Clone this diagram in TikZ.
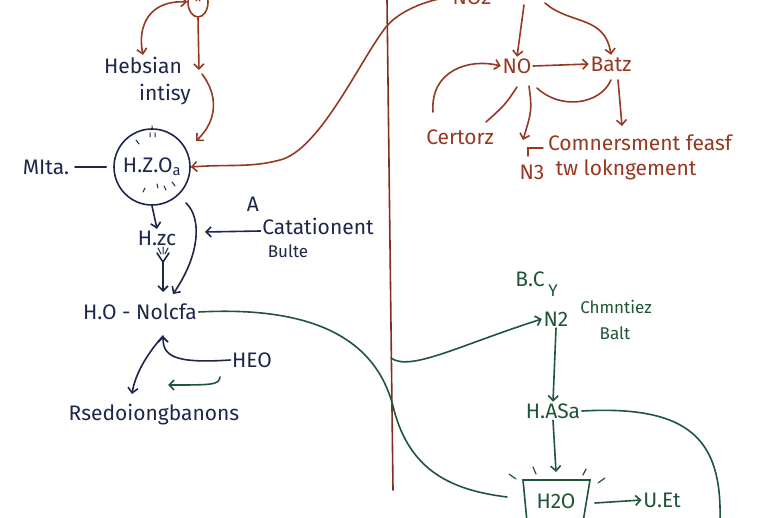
\documentclass[tikz,border=0pt]{standalone}
\usepackage{fontspec}
\setmainfont{Fira Sans}
\usepackage{tikz}
\usetikzlibrary{arrows.meta,shapes.geometric}

\definecolor{rust}{RGB}{150,56,34}
\definecolor{inkblue}{RGB}{30,38,74}
\definecolor{pine}{RGB}{32,86,56}

\tikzset{
  lbl/.style={inner sep=1pt, font=\fontsize{21}{23}\selectfont},
  sml/.style={inner sep=1pt, font=\fontsize{17}{19}\selectfont},
  >={Straight Barb[length=5pt,width=10pt]}
}

\begin{document}
\begin{tikzpicture}[x=1pt, y=-1pt, line width=1.6pt, line cap=round]
\clip (0,0) rectangle (770,518);
\fill[white] (0,0) rectangle (770,518);

% left column (navy)
\begin{scope}[inkblue]
\node[lbl] (hebs) at (143,65) {Hebsian};
\node[lbl] (intisy) at (165,95) {intisy};
\node[lbl, draw, circle, minimum size=76, inner sep=0pt] (circ) at (152,167) {H.Z.O\textsubscript{a}};
\node[lbl] (mita) at (46,167) {MIta.};
\node[lbl] (hzc) at (157,238) {H.zc};
\node[lbl] (capa) at (253,204) {A};
\node[lbl] (catat) at (318,226) {Catationent};
\node[sml] (bulte) at (288,251) {Bulte};
\node[lbl] (nolcfa) at (140,312) {H.O - Nolcfa};
\node[lbl] (heo) at (252,360) {HEO};
\node[lbl] (rsed) at (154,415) {Rsedoiongbanons};
\coordinate (hzctip) at (205,232);
\coordinate (fork) at (163,336);

\draw[shorten <=4pt, shorten >=7pt] (mita.east) -- (circ.west);
\draw[->] (circ.south) -- (hzc.north);
\draw[->] (186,203) .. controls (202,218) and (200,255) .. (173,294);
\draw[->] ([yshift=-5pt]catat.west) -- (hzctip);
\draw (157,253) -- (163,262) -- (169,253);
\draw[line width=1pt] (158,248) -- (161,254) (163,247) -- (163,254) (168,248) -- (165,254);
\draw[->] (163,262) -- (163,292);
\draw[->] (heo.west) .. controls (172,364) and (163,355) .. (fork);
\draw[->] (fork) .. controls (146,355) and (135,375) .. (132,394);
% ticks round the circle
\draw[line width=1pt] (152,126) -- (152,130) (150,133) -- (150,137) (155,133) -- (155,137)
  (136,140) -- (139,144) (145,188) -- (143,192) (157,184) -- (158,188)
  (164,186) -- (166,190) (172,182) -- (175,186);
\end{scope}
\draw[pine, ->] (220,377) .. controls (219,385) and (212,385) .. (168,385);

% top left (rust)
\begin{scope}[rust]
\node[draw, ellipse, minimum width=20, minimum height=30, inner sep=0pt,
  font=\fontsize{18}{18}\selectfont] (star) at (198,2) {\raisebox{-5pt}{*}};
\coordinate (bend) at (199,70);
\draw[<->] (star.west) .. controls (150,0) and (137,25) .. (hebs.north);
\draw[->] (star.south) -- (bend);
\draw[->] (202,74) .. controls (218,95) and (218,120) .. (196,141);
\end{scope}

% divider
\draw[rust!85!black] (387,0) -- (393,490);

% top right (rust)
\begin{scope}[rust]
\node[lbl] (no2) at (472,-3) {NO2};
\node[lbl] (no) at (517,66) {NO};
\node[lbl] (batz) at (611,64) {Batz};
\node[lbl] (certorz) at (460,137) {Certorz};
\node[lbl] (n3) at (532,172) {N3};
\node[lbl] (comn) at (640,143) {Comnersment feasf};
\node[lbl] (lokn) at (626,170) {tw lokngement};

\draw[->] (no2.west) .. controls (425,0) and (398,12) .. (386,27)
  .. controls (360,60) and (320,150) .. (280,160)
  .. controls (250,168) and (230,164) .. (circ.east);
\draw[->] (524,5) -- (no.north);
\draw[->] (545,3) .. controls (570,25) and (605,15) .. (batz.north);
\draw[->] (no.east) -- (batz.west);
\draw[->] (433,112) .. controls (430,70) and (470,58) .. (no.west);
\draw (517,87) .. controls (505,105) .. (486,122);
\draw[->] (529,86) .. controls (532,110) .. (523,140);
\draw (537,88) .. controls (560,110) and (600,105) .. (611,80);
\draw[->] (618,80) -- (622,126);
\draw[line width=1.2pt] (528,156) -- (528,148) -- (543,148);
\end{scope}

% bottom right (pine)
\begin{scope}[pine]
\node[lbl] (bc) at (530,279) {B.C};
\node[sml] (ymark) at (553,291) {Y};
\node[lbl] (n2) at (556,319) {N2};
\node[sml] (chmn) at (616,307) {Chmntiez};
\node[sml] (balt) at (615,333) {Balt};
\node[lbl] (hasa) at (553,411) {H.ASa};
\node[lbl] (h2o) at (556,501) {H2O};
\node[lbl] (uet) at (662,500) {U.Et};

\draw (523,480) -- (590,480) -- (583,522) -- (527,522) -- cycle;
\draw[line width=1.2pt] (509,474) -- (516,479) (533,467) -- (536,474)
  (586,469) -- (583,475) (605,478) -- (598,483);
\draw (nolcfa.east) .. controls (330,305) and (380,350) .. (394,410)
  .. controls (410,470) and (450,490) .. (507,497);
\draw[->] (391,358) .. controls (410,372) and (460,345) .. (n2.west);
\draw[->] (n2.south) -- (hasa.north);
\draw[->] (hasa.south) -- (556,472);
\draw[->] (595,503) -- (uet.west);
\draw (hasa.east) .. controls (690,405) and (722,440) .. (720,520);
\end{scope}
\end{tikzpicture}
\end{document}
